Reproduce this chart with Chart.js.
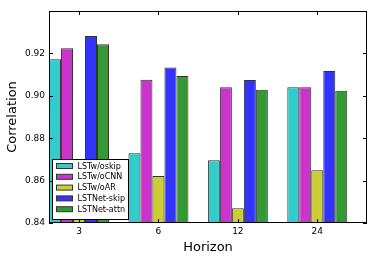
<!DOCTYPE html>
<html>
<head>
<meta charset="utf-8">
<script src="https://cdn.jsdelivr.net/npm/chart.js@4/dist/chart.umd.min.js"></script>
<style>
  body { margin: 0; background: #fff; }
  canvas { display: block; }
</style>
</head>
<body>
<canvas id="chart" width="374" height="261"></canvas>
<script>
// data
const horizons = ['3', '6', '12', '24'];
const seriesNames = ['LSTw/oskip', 'LSTw/oCNN', 'LSTw/oAR', 'LSTNet-skip', 'LSTNet-attn'];
const lstwOskip = [0.9172, 0.8729, 0.8696, 0.9040];
const lstwOcnn = [0.9224, 0.9076, 0.9040, 0.9040];
const lstwOar = [0.8450, 0.8622, 0.8469, 0.8649];
const lstnetSkip = [0.9282, 0.9133, 0.9075, 0.9117];
const lstnetAttn = [0.9243, 0.9093, 0.9029, 0.9024];
const yTicks = [0.84, 0.86, 0.88, 0.90, 0.92];

const seriesValues = [lstwOskip, lstwOcnn, lstwOar, lstnetSkip, lstnetAttn];
const colors = ['#33cccc', '#cc33cc', '#cccc33', '#3333ff', '#339933'];
const FONT = 'DejaVu Sans';

// matplotlib style: frame round the plot, ticks pointing inward
const framePlugin = {
  id: 'frame',
  afterDatasetsDraw( chart ) {
    const { ctx, chartArea: a, scales } = chart;
    ctx.save();
    ctx.strokeStyle = '#000';
    ctx.lineWidth = 1;
    ctx.strokeRect( a.left + 0.5, a.top + 0.5, a.right - a.left - 1, a.bottom - a.top - 1 );

    ctx.beginPath();
    horizons.forEach( ( h, i ) => {
      const x = Math.round( scales.x.getPixelForValue( i ) ) + 0.5;
      ctx.moveTo( x, a.bottom );
      ctx.lineTo( x, a.bottom - 4 );
      ctx.moveTo( x, a.top );
      ctx.lineTo( x, a.top + 4 );
    });
    yTicks.forEach( v => {
      const y = Math.round( scales.y.getPixelForValue( v ) ) + 0.5;
      ctx.moveTo( a.left, y );
      ctx.lineTo( a.left + 4, y );
      ctx.moveTo( a.right, y );
      ctx.lineTo( a.right - 4, y );
    });
    ctx.stroke();
    ctx.restore();
  }
};

// legend box sitting inside the plot, lower left
const boxLegendPlugin = {
  id: 'boxLegend',
  afterDraw( chart ) {
    const { ctx, chartArea: a } = chart;
    const left = a.left + 3.5;
    const top = a.bottom - 63.5;
    const rowH = 10.8;

    ctx.save();
    ctx.fillStyle = '#fff';
    ctx.strokeStyle = '#000';
    ctx.lineWidth = 1;
    ctx.fillRect( left, top, 76, 60 );
    ctx.strokeRect( left, top, 76, 60 );

    ctx.font = '8px "' + FONT + '"';
    ctx.textBaseline = 'middle';
    chart.data.datasets.forEach( ( ds, i ) => {
      const cy = top + 6.5 + i * rowH;
      ctx.fillStyle = ds.backgroundColor;
      ctx.fillRect( left + 4, cy - 2.5, 16, 5 );
      ctx.strokeStyle = '#333';
      ctx.strokeRect( left + 4, cy - 2.5, 16, 5 );
      ctx.fillStyle = '#000';
      ctx.fillText( ds.label, left + 25, cy + 0.5 );
    });
    ctx.restore();
  }
};

const datasets = seriesNames.map( ( name, s ) => ({
  label: name,
  data: seriesValues[s].map( ( v, i ) => ({ x: i, y: v }) ),
  backgroundColor: colors[s],
  borderColor: '#333',
  borderWidth: 1,
  borderSkipped: false,
  categoryPercentage: 0.755,
  barPercentage: 1
}));

new Chart( document.getElementById('chart'), {
  type: 'bar',
  data: { datasets },
  options: {
    responsive: false,
    animation: false,
    layout: { padding: { top: 11, right: 7, left: 0, bottom: 0 } },
    plugins: {
      legend: { display: false },
      tooltip: { enabled: false }
    },
    scales: {
      x: {
        type: 'linear',
        offset: false,
        min: -0.378,
        max: 3.626,
        afterBuildTicks( scale ) {
          scale.ticks = horizons.map( ( h, i ) => ({ value: i }) );
        },
        afterFit( scale ) { scale.height = 38; },
        grid: { display: false, drawTicks: false, offset: false },
        border: { display: false },
        ticks: {
          padding: 3,
          color: '#000',
          font: { family: FONT, size: 9 },
          callback: v => horizons[v] || ''
        },
        title: {
          display: true,
          text: 'Horizon',
          color: '#000',
          font: { family: FONT, size: 13 },
          padding: { top: 0, bottom: 6 }
        }
      },
      y: {
        min: 0.84,
        max: 0.94,
        afterBuildTicks( scale ) {
          scale.ticks = yTicks.map( v => ({ value: v }) );
        },
        afterFit( scale ) { scale.width = 49; },
        grid: { display: false, drawTicks: false },
        border: { display: false },
        ticks: {
          padding: 4,
          color: '#000',
          font: { family: FONT, size: 9 },
          callback: v => v.toFixed(2)
        },
        title: {
          display: true,
          text: 'Correlation',
          color: '#000',
          font: { family: FONT, size: 13 },
          padding: { top: 5, bottom: 0 }
        }
      }
    }
  },
  plugins: [ framePlugin, boxLegendPlugin ]
});
</script>
</body>
</html>
